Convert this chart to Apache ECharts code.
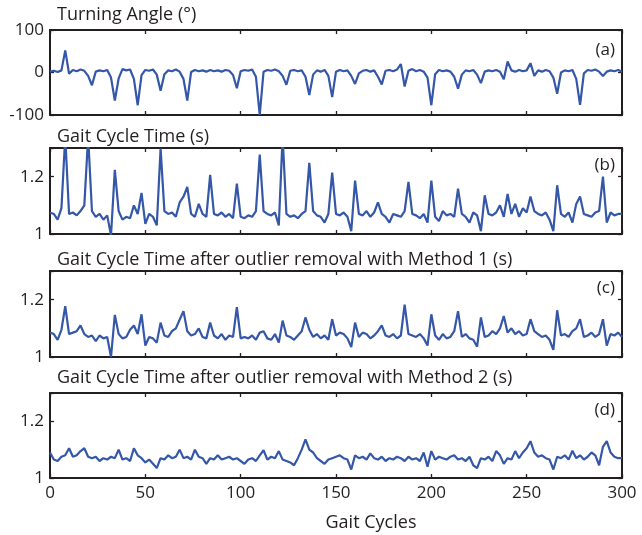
<!DOCTYPE html>
<html><head><meta charset="utf-8">
<script src="https://cdn.jsdelivr.net/npm/echarts@6/dist/echarts.min.js"></script>
<style>html,body{margin:0;padding:0;background:#fff}#c{width:642px;height:535px}</style>
</head><body><div id="c"></div>
<script>
// x positions: every 2 gait cycles, 0..300
const cycleStep = 2;
const turningAngle = [2,4,1,5,52,-3,6,3,7,4,-8,-30,2,5,3,6,-12,-66,-14,8,5,7,-15,-77,-6,6,4,7,-5,-43,-4,5,3,7,2,-15,-66,1,6,3,5,2,6,3,5,2,6,4,-6,-37,3,6,4,7,-10,-100,2,6,4,7,3,-8,-29,4,6,3,5,-10,-53,-5,5,2,6,-8,-58,2,6,3,5,-8,-27,-2,4,6,2,5,-10,-28,4,6,3,7,20,-33,4,8,3,6,2,-12,-77,-4,6,3,5,2,-10,-38,-5,5,3,6,-5,-25,2,5,3,6,2,-16,26,5,2,6,3,5,22,-8,5,2,6,3,-12,-50,0,5,3,6,-15,-76,-2,6,4,7,2,-8,2,5,3,6,2];
const gaitTime = [1.075,1.07,1.05,1.09,1.34,1.07,1.075,1.065,1.08,1.10,1.34,1.08,1.06,1.07,1.05,1.065,0.995,1.224,1.08,1.05,1.06,1.055,1.10,1.07,1.143,1.035,1.07,1.06,1.03,1.298,1.08,1.07,1.075,1.06,1.11,1.13,1.164,1.07,1.06,1.105,1.07,1.06,1.206,1.07,1.065,1.075,1.06,1.07,1.055,1.176,1.06,1.055,1.065,1.06,1.08,1.277,1.08,1.07,1.065,1.075,1.03,1.34,1.07,1.06,1.065,1.055,1.07,1.08,1.248,1.08,1.065,1.06,1.04,1.07,1.214,1.07,1.065,1.075,1.06,1.01,1.186,1.07,1.065,1.08,1.06,1.075,1.11,1.07,1.06,1.04,1.07,1.065,1.06,1.08,1.182,1.07,1.065,1.055,1.07,1.04,1.186,1.06,1.045,1.08,1.065,1.07,1.06,1.158,1.07,1.06,1.04,1.075,1.065,1.01,1.135,1.07,1.065,1.075,1.10,1.06,1.14,1.07,1.105,1.06,1.09,1.075,1.131,1.08,1.07,1.065,1.075,1.05,1.01,1.17,1.07,1.06,1.075,1.04,1.105,1.131,1.07,1.065,1.06,1.075,1.08,1.2,1.04,1.075,1.065,1.07,1.07];
const gaitMethod1 = [1.085,1.08,1.06,1.095,1.177,1.08,1.085,1.09,1.11,1.08,1.07,1.075,1.055,1.075,1.065,1.07,1.0,1.147,1.08,1.065,1.07,1.095,1.11,1.08,1.149,1.04,1.07,1.065,1.05,1.12,1.075,1.07,1.09,1.10,1.13,1.16,1.09,1.075,1.08,1.10,1.07,1.065,1.12,1.075,1.065,1.08,1.06,1.075,1.07,1.174,1.065,1.07,1.065,1.075,1.06,1.085,1.09,1.065,1.06,1.08,1.05,1.127,1.075,1.07,1.06,1.075,1.09,1.138,1.095,1.07,1.08,1.065,1.075,1.06,1.132,1.075,1.085,1.08,1.065,1.035,1.12,1.07,1.085,1.08,1.065,1.075,1.09,1.11,1.075,1.07,1.08,1.065,1.075,1.183,1.08,1.075,1.07,1.08,1.065,1.04,1.149,1.075,1.06,1.08,1.065,1.07,1.09,1.16,1.07,1.08,1.065,1.06,1.036,1.138,1.07,1.075,1.09,1.08,1.10,1.143,1.085,1.10,1.08,1.09,1.075,1.08,1.132,1.09,1.08,1.07,1.075,1.06,1.025,1.163,1.075,1.08,1.07,1.09,1.10,1.132,1.07,1.075,1.085,1.07,1.08,1.132,1.04,1.08,1.075,1.085,1.07];
const gaitMethod2 = [1.09,1.065,1.06,1.075,1.08,1.105,1.075,1.08,1.095,1.105,1.075,1.07,1.075,1.06,1.07,1.065,1.075,1.07,1.10,1.065,1.07,1.06,1.105,1.08,1.07,1.055,1.065,1.05,1.035,1.07,1.065,1.08,1.07,1.075,1.10,1.07,1.075,1.065,1.10,1.075,1.07,1.05,1.07,1.065,1.08,1.065,1.07,1.075,1.065,1.07,1.06,1.05,1.065,1.07,1.06,1.08,1.098,1.065,1.075,1.07,1.095,1.065,1.06,1.055,1.045,1.07,1.10,1.136,1.10,1.09,1.07,1.06,1.05,1.065,1.07,1.075,1.08,1.07,1.065,1.03,1.08,1.07,1.075,1.065,1.087,1.07,1.065,1.075,1.06,1.07,1.065,1.075,1.07,1.06,1.075,1.065,1.07,1.06,1.09,1.04,1.095,1.065,1.075,1.07,1.065,1.075,1.08,1.065,1.07,1.06,1.075,1.045,1.035,1.07,1.065,1.075,1.06,1.095,1.08,1.05,1.07,1.065,1.095,1.07,1.09,1.105,1.13,1.09,1.075,1.08,1.07,1.065,1.03,1.075,1.07,1.08,1.065,1.096,1.07,1.08,1.065,1.075,1.09,1.08,1.045,1.11,1.13,1.09,1.075,1.07,1.07];

const panelTitles = ['Turning Angle (°)', 'Gait Cycle Time (s)', 'Gait Cycle Time after outlier removal with Method 1 (s)', 'Gait Cycle Time after outlier removal with Method 2 (s)'];
const panelTags = ['(a)', '(b)', '(c)', '(d)'];
const xLabel = 'Gait Cycles';
const yRanges = [[-100, 100, 100], [1, 1.3, 0.2], [1, 1.3, 0.2], [1, 1.3, 0.2]];
const xRange = [0, 300, 50];

const seriesValues = [turningAngle, gaitTime, gaitMethod1, gaitMethod2];
const gridTops = [30, 148, 271, 393];
const gridHeights = [85, 86, 86, 85];
const titleY = [15, 137, 260, 378];
const tagY = [50, 165, 288, 410];

const FONT = '"Open Sans", "Noto Sans", sans-serif';
const INK = '#231f20';
const LINE = '#3557a7';

const grids = [], xAxes = [], yAxes = [], series = [], graphics = [];
for (let i = 0; i < 4; i++) {
  grids.push({left: 50, right: 20, top: gridTops[i], height: gridHeights[i], containLabel: false});
  const axLine = {show: true, onZero: false, lineStyle: {color: INK, width: 2}};
  const tick = {show: true, inside: true, length: 4, lineStyle: {color: INK, width: 1.3}};
  xAxes.push({gridIndex: i, type: 'value', position: 'bottom', min: xRange[0], max: xRange[1], interval: xRange[2],
    axisLine: axLine, axisTick: tick, splitLine: {show: false},
    axisLabel: {show: i === 3, color: INK, fontSize: 17, fontFamily: FONT, margin: 7}});
  xAxes.push({gridIndex: i, type: 'value', position: 'top', min: xRange[0], max: xRange[1], interval: xRange[2],
    axisLine: axLine, axisTick: tick, splitLine: {show: false}, axisLabel: {show: false}});
  const yr = yRanges[i];
  yAxes.push({gridIndex: i, type: 'value', position: 'left', min: yr[0], max: yr[1], interval: yr[2],
    axisLine: axLine, axisTick: tick, splitLine: {show: false},
    axisLabel: {color: INK, fontSize: 17, fontFamily: FONT, margin: 6,
      formatter: function (v) {
        if (i === 0) return String(Math.round(v));
        if (Math.abs(v - 1) < 1e-6) return '1';
        if (Math.abs(v - 1.2) < 1e-6) return '1.2';
        return '';
      }}});
  yAxes.push({gridIndex: i, type: 'value', position: 'right', min: yr[0], max: yr[1], interval: yr[2],
    axisLine: axLine, axisTick: tick, splitLine: {show: false}, axisLabel: {show: false}});
  const vals = seriesValues[i];
  series.push({type: 'line', xAxisIndex: 2 * i, yAxisIndex: 2 * i, showSymbol: false, clip: true,
    lineStyle: {color: LINE, width: 2.2}, data: vals.map((v, k) => [k * cycleStep, v])});
  graphics.push({type: 'text', x: 57, y: titleY[i],
    style: {text: panelTitles[i], fill: INK, font: '18px ' + FONT, verticalAlign: 'middle', align: 'left'}});
  graphics.push({type: 'text', x: 615, y: tagY[i],
    style: {text: panelTags[i], fill: INK, font: '17px ' + FONT, verticalAlign: 'middle', align: 'right'}});
}
graphics.push({type: 'text', x: 371, y: 523, style: {text: xLabel, fill: INK, font: '18px ' + FONT, verticalAlign: 'middle', align: 'center'}});

const chart = echarts.init(document.getElementById('c'), null, {renderer: 'canvas'});
chart.setOption({animation: false, backgroundColor: '#fff', grid: grids, xAxis: xAxes, yAxis: yAxes, series: series, graphic: graphics});
</script>
</body></html>
